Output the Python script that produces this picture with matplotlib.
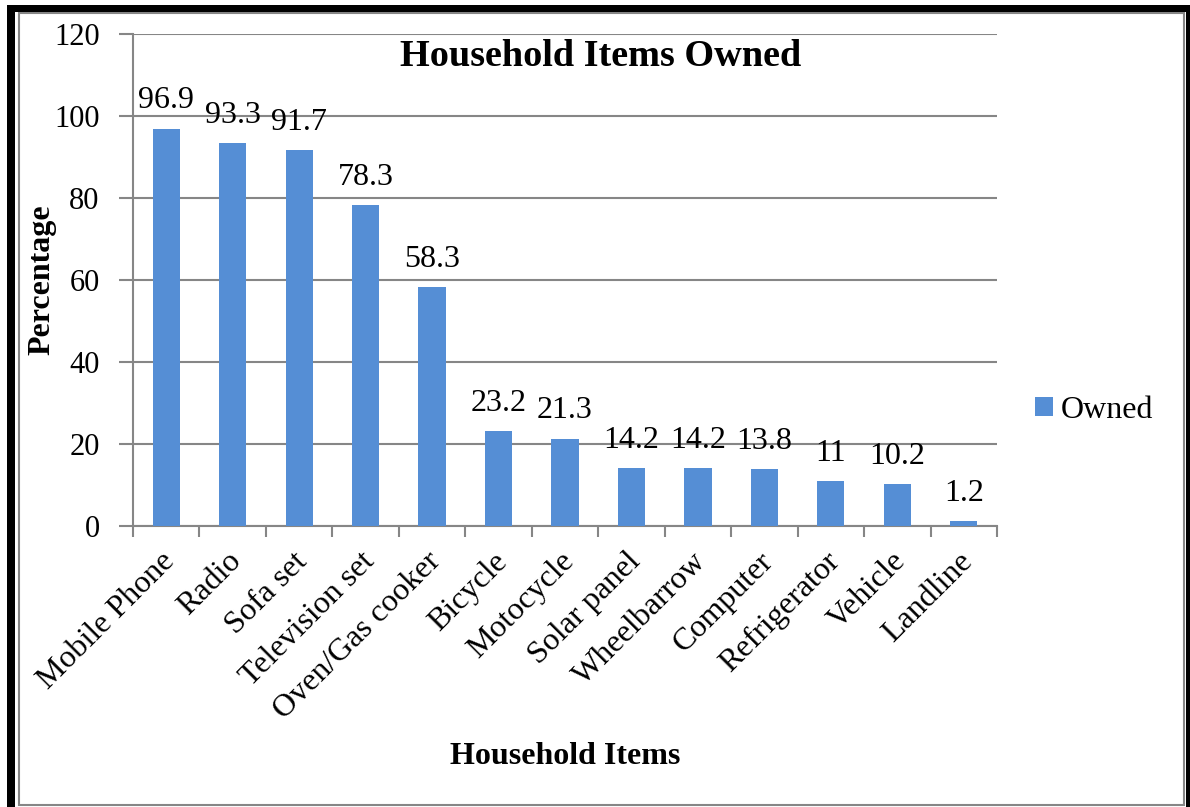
import matplotlib
matplotlib.use("Agg")
import matplotlib.pyplot as plt
from matplotlib.patches import Rectangle
from matplotlib.transforms import ScaledTranslation

categories = ["Mobile Phone", "Radio", "Sofa set", "Television set", "Oven/Gas cooker",
              "Bicycle", "Motocycle", "Solar panel", "Wheelbarrow", "Computer",
              "Refrigerator", "Vehicle", "Landline"]
owned = [96.9, 93.3, 91.7, 78.3, 58.3, 23.2, 21.3, 14.2, 14.2, 13.8, 11, 10.2, 1.2]
yticks = [0, 20, 40, 60, 80, 100, 120]

plt.rcParams['font.family'] = ['Liberation Serif', 'DejaVu Serif']

W, H = 1190, 807
fig = plt.figure(figsize=(W/100, H/100), dpi=100)
ax = fig.add_axes([133/W, 1-526/H, (997-133)/W, (526-34)/H])

bar_color = '#558ED5'
grid_color = '#868686'
x = list(range(len(categories)))
bars = ax.bar(x, owned, width=0.41, color=bar_color, label='Owned', zorder=3)
ax.set_xlim(-0.5, len(categories)-0.5)
ax.set_ylim(0, 120)
ax.set_yticks(yticks)
ax.set_yticklabels([str(t) for t in yticks], fontsize=22)
ax.yaxis.grid(True, color=grid_color, linewidth=1.5, zorder=0)
ax.set_axisbelow(True)

for sp in ['top', 'right']:
    ax.spines[sp].set_visible(False)
for sp in ['left', 'bottom']:
    ax.spines[sp].set_color(grid_color)
    ax.spines[sp].set_linewidth(1.5)

ax.tick_params(axis='y', length=10, width=1.5, color=grid_color, pad=14)
# category boundary ticks
ax.set_xticks([i - 0.5 for i in range(len(categories)+1)], minor=False)
ax.set_xticklabels([''] * (len(categories)+1))
ax.tick_params(axis='x', which='major', length=8, width=1.5, color=grid_color)
ax.set_xticks(x, minor=True)
ax.set_xticklabels(categories, minor=True, rotation=45, ha='right', va='top',
                   rotation_mode='anchor', fontsize=23)
ax.tick_params(axis='x', which='minor', length=0, pad=15)
shift = ScaledTranslation(-6/100, 0, fig.dpi_scale_trans)
for lbl in ax.get_xticklabels(minor=True):
    lbl.set_transform(lbl.get_transform() + shift)

for xi, v in zip(x, owned):
    lab = ('%g' % v)
    ax.annotate(lab, (xi, v), xytext=(0, 20), textcoords='offset points',
                ha='center', va='center', fontsize=23)

fig.text(601/W, 1-57/H, 'Household Items Owned',
         ha='center', va='center', fontsize=27.5, fontweight='bold')

fig.text(42/W, 1-280/H, 'Percentage', rotation=90, ha='center', va='center',
         fontsize=23, fontweight='bold')
fig.text(565/W, 1-757/H, 'Household Items', ha='center', va='center',
         fontsize=23, fontweight='bold')

leg = fig.legend(handles=[bars], labels=['Owned'], loc='center left',
                 bbox_to_anchor=(1035/W, 1-410/H), frameon=False, fontsize=23,
                 handlelength=0.55, handleheight=0.55, handletextpad=0.25,
                 borderpad=0, borderaxespad=0)

# borders
fig.patches.append(Rectangle((19/W, 1-805/H), (1184-19)/W, (805-13)/H,
                             transform=fig.transFigure, fill=False,
                             edgecolor=grid_color, linewidth=1.5))
fig.patches.append(Rectangle((7/W, 1-807/H), 8/W, (807-5)/H, transform=fig.transFigure,
                             color='black', linewidth=0))
fig.patches.append(Rectangle((7/W, 1-12/H), (1190-7)/W, 7/H, transform=fig.transFigure,
                             color='black', linewidth=0))
fig.patches.append(Rectangle((1186/W, 1-807/H), 4/W, (807-5)/H, transform=fig.transFigure,
                             color='black', linewidth=0))

fig.savefig('out.png', dpi=100)
